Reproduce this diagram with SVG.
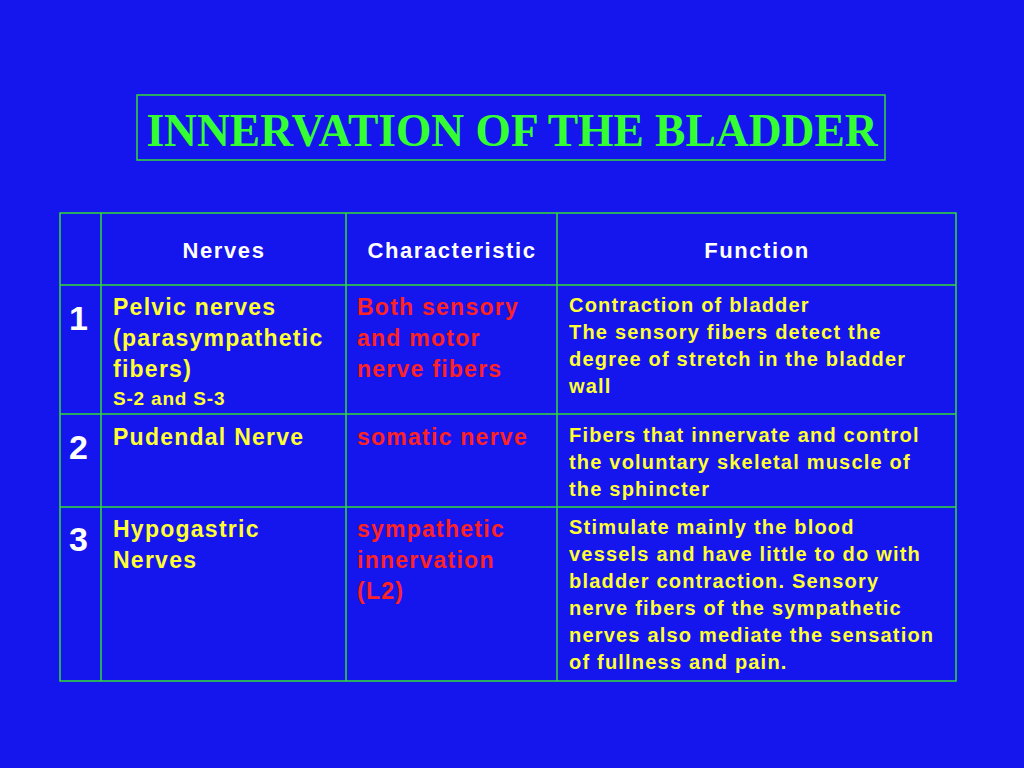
<svg xmlns="http://www.w3.org/2000/svg" width="1024" height="768" viewBox="0 0 1024 768">
<style>
.g{stroke:#33dd33;stroke-width:1.5;fill:none}
.h{font-family:"Liberation Sans",Arial,sans-serif;font-weight:bold;font-size:22px;letter-spacing:1.6px;fill:#fff;text-anchor:middle}
.y{font-family:"Liberation Sans",Arial,sans-serif;font-weight:bold;font-size:23px;letter-spacing:1.25px;fill:#ffff33}
.s{font-size:19px;letter-spacing:0.8px}
.r{font-family:"Liberation Sans",Arial,sans-serif;font-weight:bold;font-size:23px;letter-spacing:1.25px;fill:#ff2222}
.f{font-family:"Liberation Sans",Arial,sans-serif;font-weight:bold;font-size:20px;letter-spacing:1.2px;fill:#ffff33}
.n{font-family:"Liberation Sans",Arial,sans-serif;font-weight:bold;font-size:34px;fill:#fff}
</style>
<rect width="1024" height="768" fill="#1515ee"/>
<g id="title">
<rect class="g" x="137" y="95" width="748" height="65"/>
<text x="512" y="146" font-family="Liberation Serif,serif" font-weight="bold" font-size="45.5" fill="#33ff33" text-anchor="middle">INNERVATION OF THE BLADDER</text>
</g>
<g id="grid">
<rect class="g" x="60" y="213" width="896" height="468"/>
<path class="g" d="M101 213V681M346 213V681M557 213V681M60 285H956M60 414H956M60 507H956"/>
</g>
<g id="header">
<text class="h" x="224" y="258">Nerves</text>
<text class="h" x="452" y="258">Characteristic</text>
<text class="h" x="757" y="258">Function</text>
</g>
<g id="row1">
<text class="n" x="69" y="330">1</text>
<text class="y" x="113" y="315">Pelvic nerves</text>
<text class="y" x="113" y="346">(parasympathetic</text>
<text class="y" x="113" y="377">fibers)</text>
<text class="y s" x="113" y="405">S-2 and S-3</text>
<text class="r" x="357" y="315">Both sensory</text>
<text class="r" x="357" y="346">and motor</text>
<text class="r" x="357" y="377">nerve fibers</text>
<text class="f" x="569" y="312">Contraction of bladder</text>
<text class="f" x="569" y="339">The sensory fibers detect the</text>
<text class="f" x="569" y="366">degree of stretch in the bladder</text>
<text class="f" x="569" y="393">wall</text>
</g>
<g id="row2">
<text class="n" x="69" y="459">2</text>
<text class="y" x="113" y="445">Pudendal Nerve</text>
<text class="r" x="357" y="445">somatic nerve</text>
<text class="f" x="569" y="442">Fibers that innervate and control</text>
<text class="f" x="569" y="469">the voluntary skeletal muscle of</text>
<text class="f" x="569" y="496">the sphincter</text>
</g>
<g id="row3">
<text class="n" x="69" y="551">3</text>
<text class="y" x="113" y="537">Hypogastric</text>
<text class="y" x="113" y="568">Nerves</text>
<text class="r" x="357" y="537">sympathetic</text>
<text class="r" x="357" y="568">innervation</text>
<text class="r" x="357" y="599">(L2)</text>
<text class="f" x="569" y="534">Stimulate mainly the blood</text>
<text class="f" x="569" y="561">vessels and have little to do with</text>
<text class="f" x="569" y="588">bladder contraction. Sensory</text>
<text class="f" x="569" y="615">nerve fibers of the sympathetic</text>
<text class="f" x="569" y="642">nerves also mediate the sensation</text>
<text class="f" x="569" y="669">of fullness and  pain.</text>
</g>
</svg>
